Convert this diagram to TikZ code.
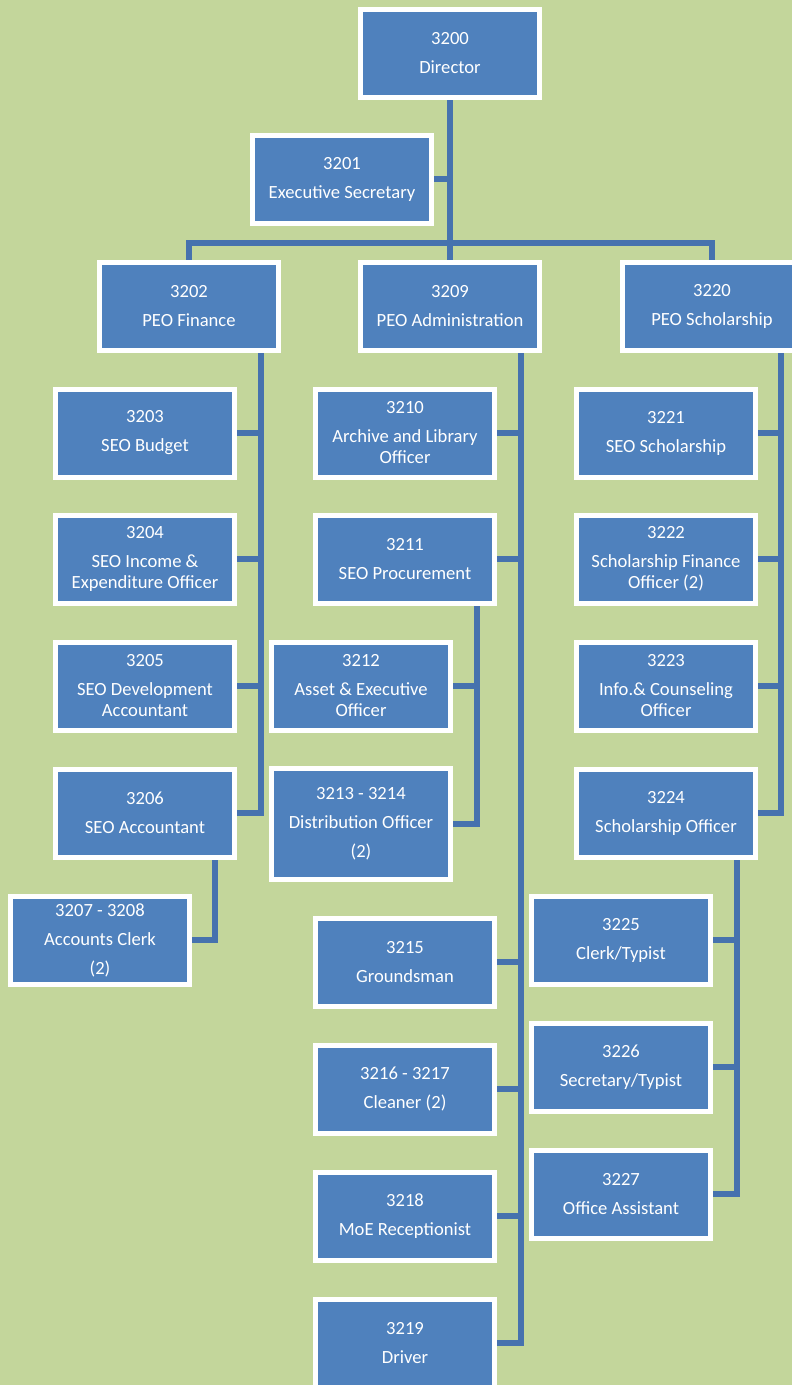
\documentclass[tikz,border=0pt]{standalone}
\usepackage{fontspec}
\setmainfont{Carlito}
\definecolor{bgreen}{HTML}{C3D69B}
\definecolor{boxblue}{HTML}{4F81BD}
\definecolor{linkblue}{HTML}{4672AE}
\pgfdeclarelayer{back}
\pgfdeclarelayer{lines}
\pgfsetlayers{back,lines,main}
\begin{document}
\begin{tikzpicture}[x=1pt,y=-1pt,
  orgbox/.style={rectangle, fill=boxblue, draw=white, line width=5pt,
    minimum width=179pt, minimum height=88pt, inner sep=0pt,
    text=white, align=center, font=\fontsize{18.6}{21}\selectfont},
  tallbox/.style={orgbox, minimum height=111pt},
  link/.style={draw=linkblue, line width=5.5pt}]
\begin{pgfonlayer}{back}
\fill[bgreen] (0,0) rectangle (792,1385);
\end{pgfonlayer}
\useasboundingbox (0,0) rectangle (792,1385);

% top
\node[orgbox] (n3200) at (450,53) {3200\\[8pt]Director};
\node[orgbox] (n3201) at (342,179) {3201\\[8pt]Executive Secretary};
% level 2
\node[orgbox] (n3202) at (189,306) {3202\\[8pt]PEO Finance};
\node[orgbox] (n3209) at (450,306) {3209\\[8pt]PEO Administration};
\node[orgbox] (n3220) at (712,306) {3220\\[8pt]PEO Scholarship};
% finance
\node[orgbox] (n3203) at (145,433) {3203\\[8pt]SEO Budget};
\node[orgbox] (n3204) at (145,559) {3204\\[8pt]SEO Income \&\\Expenditure Officer};
\node[orgbox] (n3205) at (145,686) {3205\\[8pt]SEO Development\\Accountant};
\node[orgbox] (n3206) at (145,813) {3206\\[8pt]SEO Accountant};
\node[orgbox] (n3207) at (100,940) {3207 - 3208\\[8pt]Accounts Clerk\\[8pt](2)};
% administration
\node[orgbox] (n3210) at (405,433) {3210\\[8pt]Archive and Library\\Officer};
\node[orgbox] (n3211) at (405,559) {3211\\[8pt]SEO Procurement};
\node[orgbox] (n3212) at (361,686) {3212\\[8pt]Asset \& Executive\\Officer};
\node[tallbox] (n3213) at (361,824) {3213 - 3214\\[8pt]Distribution Officer\\[8pt](2)};
\node[orgbox] (n3215) at (405,962) {3215\\[8pt]Groundsman};
\node[orgbox] (n3216) at (405,1089) {3216 - 3217\\[8pt]Cleaner (2)};
\node[orgbox] (n3218) at (405,1216) {3218\\[8pt]MoE Receptionist};
\node[orgbox] (n3219) at (405,1343) {3219\\[8pt]Driver};
% scholarship
\node[orgbox] (n3221) at (666,433) {3221\\[8pt]SEO Scholarship};
\node[orgbox] (n3222) at (666,559) {3222\\[8pt]Scholarship Finance\\Officer (2)};
\node[orgbox] (n3223) at (666,686) {3223\\[8pt]Info.\& Counseling\\Officer};
\node[orgbox] (n3224) at (666,813) {3224\\[8pt]Scholarship Officer};
\node[orgbox] (n3225) at (621,940) {3225\\[8pt]Clerk/Typist};
\node[orgbox] (n3226) at (621,1067) {3226\\[8pt]Secretary/Typist};
\node[orgbox] (n3227) at (621,1194) {3227\\[8pt]Office Assistant};

% junction / spine coordinates
\coordinate (j0) at (450,243);
\coordinate (fs) at (261,813);
\coordinate (s6) at (215,940);
\coordinate (as) at (521,1343);
\coordinate (ps) at (477,824);
\coordinate (ss) at (781,813);
\coordinate (cs) at (737,1194);

\begin{pgfonlayer}{lines}
\draw[link] (n3200.south) -- (j0);
\draw[link] (n3201.east) -- (n3201.east -| j0);
\draw[link] (n3202.north) |- (j0) -| (n3220.north);
\draw[link] (j0) -- (n3209.north);
% finance
\draw[link] (n3202.south -| fs) |- (n3206.east);
\draw[link] (n3203.east) -- (n3203.east -| fs);
\draw[link] (n3204.east) -- (n3204.east -| fs);
\draw[link] (n3205.east) -- (n3205.east -| fs);
\draw[link] (n3206.south -| s6) |- (n3207.east);
% administration
\draw[link] (n3209.south -| as) |- (n3219.east);
\draw[link] (n3210.east) -- (n3210.east -| as);
\draw[link] (n3211.east) -- (n3211.east -| as);
\draw[link] (n3215.east) -- (n3215.east -| as);
\draw[link] (n3216.east) -- (n3216.east -| as);
\draw[link] (n3218.east) -- (n3218.east -| as);
\draw[link] (n3211.south -| ps) |- (n3213.east);
\draw[link] (n3212.east) -- (n3212.east -| ps);
% scholarship
\draw[link] (n3220.south -| ss) |- (n3224.east);
\draw[link] (n3221.east) -- (n3221.east -| ss);
\draw[link] (n3222.east) -- (n3222.east -| ss);
\draw[link] (n3223.east) -- (n3223.east -| ss);
\draw[link] (n3224.south -| cs) |- (n3227.east);
\draw[link] (n3225.east) -- (n3225.east -| cs);
\draw[link] (n3226.east) -- (n3226.east -| cs);
\end{pgfonlayer}
\end{tikzpicture}
\end{document}
